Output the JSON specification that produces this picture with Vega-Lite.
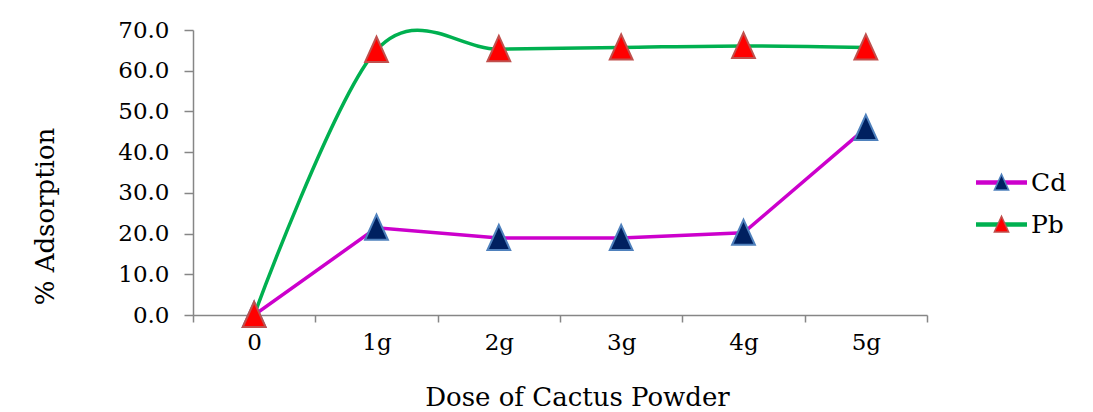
{
  "$schema": "https://vega.github.io/schema/vega-lite/v6.json",
  "width": 734,
  "height": 285,
  "autosize": {"type": "none"},
  "padding": {"left": 193, "top": 30, "right": 166, "bottom": 97},
  "background": "white",
  "config": {
    "view": {"stroke": null},
    "font": "DejaVu Serif"
  },
  "data": {
    "values": [
      {"dose": "0", "metal": "Cd", "value": 0},
      {"dose": "1g", "metal": "Cd", "value": 21.4},
      {"dose": "2g", "metal": "Cd", "value": 18.9},
      {"dose": "3g", "metal": "Cd", "value": 18.9},
      {"dose": "4g", "metal": "Cd", "value": 20.2},
      {"dose": "5g", "metal": "Cd", "value": 45.9},
      {"dose": "0", "metal": "Pb", "value": 0},
      {"dose": "1g", "metal": "Pb", "value": 65.1},
      {"dose": "2g", "metal": "Pb", "value": 65.3},
      {"dose": "3g", "metal": "Pb", "value": 65.7},
      {"dose": "4g", "metal": "Pb", "value": 66.1},
      {"dose": "5g", "metal": "Pb", "value": 65.7}
    ]
  },
  "encoding": {
    "x": {
      "field": "dose",
      "type": "nominal",
      "sort": ["0", "1g", "2g", "3g", "4g", "5g"],
      "scale": {"type": "band", "paddingInner": 0, "paddingOuter": 0},
      "axis": {
        "title": "Dose of Cactus Powder",
        "titleFontSize": 26,
        "titleFontWeight": "normal",
        "titleColor": "#000000",
        "titleX": 384,
        "titleY": 90,
        "titleAnchor": null,
        "titleAlign": "center",
        "titleBaseline": "alphabetic",
        "labelAngle": 0,
        "labelFontSize": 23,
        "labelColor": "#000000",
        "labelPadding": 9,
        "tickBand": "extent",
        "tickSize": 7,
        "tickColor": "#868686",
        "domainColor": "#868686",
        "domainWidth": 1.5,
        "tickWidth": 1.5,
        "grid": false
      }
    },
    "y": {
      "field": "value",
      "type": "quantitative",
      "scale": {"domain": [0, 70], "nice": false},
      "axis": {
        "title": "% Adsorption",
        "titleFontSize": 26,
        "titleFontWeight": "normal",
        "titleColor": "#000000",
        "titleX": -148,
        "titleY": 186,
        "titleAngle": 270,
        "titleAlign": "center",
        "titleBaseline": "middle",
        "values": [0, 10, 20, 30, 40, 50, 60, 70],
        "format": ".1f",
        "labelFontSize": 23,
        "labelColor": "#000000",
        "labelPadding": 15,
        "tickSize": 9,
        "tickColor": "#868686",
        "domainColor": "#868686",
        "domainWidth": 1.5,
        "tickWidth": 1.5,
        "grid": false
      }
    }
  },
  "resolve": {
    "legend": {"color": "independent", "fill": "independent", "stroke": "independent"}
  },
  "layer": [
    {
      "transform": [{"filter": "datum.metal === 'Cd'"}],
      "mark": {"type": "line", "interpolate": "linear", "strokeWidth": 3.5},
      "encoding": {
        "color": {
          "field": "metal",
          "type": "nominal",
          "scale": {"domain": ["Cd", "Pb"], "range": ["#CC00CC", "#00B050"]},
          "legend": {
            "orient": "none",
            "legendX": 796,
            "legendY": 140,
            "title": null,
            "symbolType": "M-3.4,0H3.4",
            "symbolSize": 225,
            "symbolStrokeWidth": 4.5,
            "symbolFillColor": "transparent",
            "labelFontSize": 25,
            "labelColor": "#000000",
            "labelOffset": 17,
            "rowPadding": 16
          }
        }
      }
    },
    {
      "transform": [{"filter": "datum.metal === 'Pb'"}],
      "mark": {"type": "line", "interpolate": "cardinal", "strokeWidth": 3.5},
      "encoding": {
        "color": {"field": "metal", "type": "nominal", "legend": null}
      }
    },
    {
      "mark": {
        "type": "point",
        "filled": true,
        "shape": "M0,-1.1L0.95,1H-0.95Z",
        "size": 576,
        "strokeWidth": 2,
        "opacity": 1
      },
      "encoding": {
        "fill": {
          "field": "metal",
          "type": "nominal",
          "scale": {"domain": ["Cd", "Pb"], "range": ["#002060", "#FF0000"]},
          "legend": {
            "orient": "none",
            "legendX": 796,
            "legendY": 140,
            "title": null,
            "symbolType": "M0,-1.1L0.95,1H-0.95Z",
            "symbolSize": 225,
            "symbolStrokeWidth": 1.5,
            "labelFontSize": 25,
            "labelExpr": "''",
            "rowPadding": 16
          }
        },
        "stroke": {
          "field": "metal",
          "type": "nominal",
          "scale": {"domain": ["Cd", "Pb"], "range": ["#4F81BD", "#C0504D"]},
          "legend": {
            "orient": "none",
            "legendX": 796,
            "legendY": 140,
            "title": null,
            "symbolType": "M0,-1.1L0.95,1H-0.95Z",
            "symbolSize": 225,
            "symbolStrokeWidth": 1.5,
            "labelFontSize": 25,
            "labelExpr": "''",
            "rowPadding": 16
          }
        }
      }
    }
  ]
}
